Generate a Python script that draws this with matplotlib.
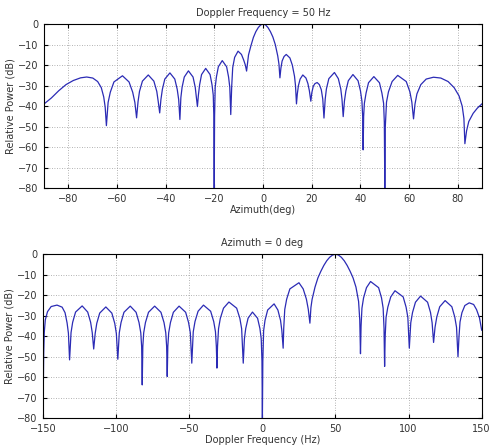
import matplotlib
matplotlib.use("Agg")
import matplotlib.pyplot as plt

# Azimuth cut at Doppler = 50 Hz
az_deg = [-90, -87, -84, -81, -78, -75, -72.5, -70, -68, -66.5, -65.5, -64.9, -64.4,
          -63.7, -62.8, -61.3, -57.8, -55.1, -53.6, -52.7, -52.0,
          -51.4, -50.8, -49.6, -47.2, -44.9, -43.7, -43.1, -42.5,
          -42.0, -41.4, -40.4, -38.3, -36.3, -35.3, -34.7, -34.2,
          -33.8, -33.3, -32.4, -30.7, -28.8, -27.9, -27.4, -27.0,
          -26.6, -26.1, -25.3, -23.6, -21.8, -21.0, -20.5, -20.25, -20.1,
          -19.95, -19.7, -19.2, -18.4, -16.8, -15.0, -14.2, -13.7, -13.3,
          -12.9, -12.5, -11.7, -10.3, -8.9, -8.0, -7.3, -6.8,
          -6, -5, -4, -3, -2, -1, 0, 1, 2, 3, 4, 5, 6, 6.5, 6.9,
          7.3, 7.8, 8.6, 9.5, 11.0, 12.0, 12.9, 13.3, 13.7,
          14.05, 14.5, 15.2, 16.3, 17.6, 18.4, 19.0, 19.6,
          20.0, 20.6, 21.3, 22.2, 23.1, 23.9, 24.5, 25.0,
          25.5, 26.0, 27.0, 29.3, 30.9, 31.9, 32.4, 32.9,
          33.4, 34.0, 35.0, 36.9, 39.0, 40.0, 40.6, 40.9, 41.1,
          41.3, 41.6, 42.3, 43.3, 45.5, 47.8, 48.8, 49.5, 49.8, 50.0,
          50.2, 50.7, 51.5, 53.0, 55.3, 58.8, 60.3, 61.1, 61.8,
          62.4, 63.2, 64.8, 67, 70, 73, 76, 78.5, 80.5, 81.8, 82.5, 82.9,
          83.6, 84.5, 86.3, 88, 90]
az_db = [-38.9, -36, -32.5, -29.5, -27.5, -26.2, -25.8, -26.3, -28, -31, -35.5, -40.5, -49.5,
         -38.2, -33.2, -28.2, -25.2, -28.2, -33.2, -38.2, -45.7,
         -37.8, -32.8, -27.8, -24.8, -27.8, -32.8, -37.8, -43.3,
         -36.8, -31.8, -26.8, -23.8, -26.8, -31.8, -36.8, -46.5,
         -35.8, -30.8, -25.8, -22.8, -25.8, -30.8, -35.8, -40.2,
         -34.6, -29.6, -24.6, -21.6, -24.6, -29.6, -34.6, -45, -80,
         -45, -30.8, -25.8, -20.8, -17.8, -20.8, -25.8, -30.8, -44.1,
         -30, -21.2, -16.2, -13.2, -14.8, -17.5, -20, -22.9,
         -15, -10.5, -6.5, -3.7, -1.7, -0.4, 0, -0.4, -1.7, -3.7, -6.3, -10, -15.5, -19.5, -26.2,
         -21.5, -18, -15.8, -14.8, -16.5, -20, -25.5, -30, -38.9,
         -34, -30, -26.8, -24.8, -26.3, -29, -32.5, -37.6,
         -33.5, -30.3, -29, -28.5, -29.5, -32, -36.5, -45.8,
         -36.6, -31.6, -26.6, -23.6, -26.6, -31.6, -36.6, -45.1,
         -37.6, -32.6, -27.6, -24.6, -27.6, -32.6, -37.6, -45, -61.3,
         -45, -38.6, -33.6, -28.6, -25.6, -28.6, -33.6, -38.6, -48, -80,
         -50, -38, -33, -28, -25, -28, -33, -38, -46.2,
         -39, -34, -29.5, -26.8, -25.9, -26.3, -28, -31, -35, -40, -46, -58.3,
         -52, -47.5, -43.5, -41, -38.8]

# Doppler cut at azimuth = 0 deg
dop_hz = [-150, -149.6, -149.2, -148.5, -147, -144.5, -140.5, -137, -135, -133.6, -132.7, -131.9,
          -130.9, -129.8, -127.8, -123.3, -119.5, -117.5, -116.4, -115.4,
          -114.4, -113.3, -111.3, -107.1, -103.0, -101.0, -99.9, -98.9,
          -97.9, -96.7, -94.7, -90.4, -86.4, -84.4, -83.2, -82.6, -82.2,
          -81.8, -81.2, -80.0, -77.9, -73.7, -69.4, -67.3, -66.1, -65.5, -65.1,
          -64.7, -64.1, -62.9, -60.9, -57.0, -52.5, -50.5, -49.3, -48.3,
          -47.3, -46.1, -44.0, -40.3, -35.4, -33.3, -32.1, -31.5, -31.1,
          -30.7, -30.0, -28.8, -26.6, -22.9, -17.6, -15.4, -14.2, -13.1,
          -12.3, -11.4, -9.8, -6.8, -3.3, -1.7, -0.8, -0.3, 0,
          0.3, 0.85, 1.8, 3.6, 8.0, 10.6, 12.4, 13.3, 14.2,
          14.6, 15.3, 16.6, 18.8, 25.0, 27.9, 30.1, 31.4, 32.5,
          33.2, 34, 36, 38, 40, 42, 44, 46, 48, 50, 52, 54, 56, 58, 60, 62, 64, 65.8, 66.6, 67.1,
          67.5, 68.1, 69.2, 71.2, 74.0, 79.5, 81.5, 82.6, 83.2, 83.6,
          84.0, 84.6, 85.8, 87.8, 90.7, 96.3, 98.3, 99.5, 100.5,
          101.5, 102.7, 104.7, 108.2, 113.0, 115.0, 116.1, 117.1,
          118.1, 119.3, 121.3, 125.0, 129.6, 131.6, 132.8, 133.8,
          134.5, 135.2, 136.5, 138.5, 141.5, 144.5, 146.5, 148.5, 150]
dop_db = [-73, -48, -38, -32, -28, -25.5, -24.8, -25.8, -28.5, -33.5, -38.5, -51.5,
          -38.2, -33.2, -28.2, -25.2, -28.2, -33.2, -38.2, -46.2,
          -38.7, -33.7, -28.7, -25.7, -28.7, -33.7, -38.7, -51.2,
          -38.3, -33.3, -28.3, -25.3, -28.3, -33.3, -38.3, -45, -63.7,
          -45, -38.3, -33.3, -28.3, -25.3, -28.3, -33.3, -38.3, -45, -59.6,
          -45, -38.3, -33.3, -28.3, -25.3, -28.3, -33.3, -38.3, -53.1,
          -37.8, -32.8, -27.8, -24.8, -27.8, -32.8, -37.8, -45, -55.5,
          -45, -36.3, -31.3, -26.3, -23.3, -26.3, -31.3, -36.3, -53.1,
          -41.2, -36.2, -31.2, -28.2, -31.2, -36.2, -41.2, -52, -80,
          -52, -37.2, -32.2, -27.2, -24.2, -27.2, -32.2, -37.2, -45.8,
          -36, -26.9, -21.9, -16.9, -13.9, -16.9, -21.9, -26.9, -33.6,
          -26, -22, -16, -11.5, -8.3, -5.5, -3.2, -1.5, -0.4, 0, -0.4, -1.5, -3.2, -5.5, -8.3, -11.5, -16, -23, -32, -48.5,
          -35, -26.3, -21.3, -16.3, -13.3, -16.3, -21.3, -26.3, -36, -54.7,
          -40, -30.8, -25.8, -20.8, -17.8, -20.8, -25.8, -30.8, -45.8,
          -33.4, -28.4, -23.4, -20.4, -23.4, -28.4, -33.4, -43,
          -35.6, -30.6, -25.6, -22.6, -25.6, -30.6, -35.6, -50,
          -40, -33, -28.5, -25, -23.7, -24.5, -27, -31, -37]

line_color = '#2b2bb5'
txt_color = '#333333'

fig = plt.figure(figsize=(4.9, 4.46), dpi=100)
ax1 = fig.add_axes([0.090, 0.578, 0.894, 0.368])
ax2 = fig.add_axes([0.088, 0.062, 0.895, 0.368])

panels = [
    (ax1, az_deg, az_db, (-90, 90), range(-80, 81, 20),
     'Doppler Frequency = 50 Hz', 'Azimuth(deg)'),
    (ax2, dop_hz, dop_db, (-150, 150), range(-150, 151, 50),
     'Azimuth = 0 deg', 'Doppler Frequency (Hz)'),
]

for ax, x, y, xl, xt, title, xlabel in panels:
    ax.plot(x, y, color=line_color, lw=0.9)
    ax.set_xlim(*xl)
    ax.set_ylim(-80, 0)
    ax.set_xticks(list(xt))
    ax.set_yticks(range(-80, 1, 10))
    ax.grid(True, color='#9a9a9a', linestyle=(0, (1, 2)), linewidth=0.6)
    ax.tick_params(direction='in', length=3, labelsize=7, colors='black',
                   labelcolor=txt_color, top=True, right=True, pad=4)
    for s in ax.spines.values():
        s.set_linewidth(0.8)
    ax.set_title(title, fontsize=7, color=txt_color, pad=6)
    ax.set_xlabel(xlabel, fontsize=7, color=txt_color, labelpad=1)
    ax.set_ylabel('Relative Power (dB)', fontsize=7, color=txt_color)
    ax.yaxis.set_label_coords(-0.065, 0.5)

fig.savefig('out.png', dpi=100)
